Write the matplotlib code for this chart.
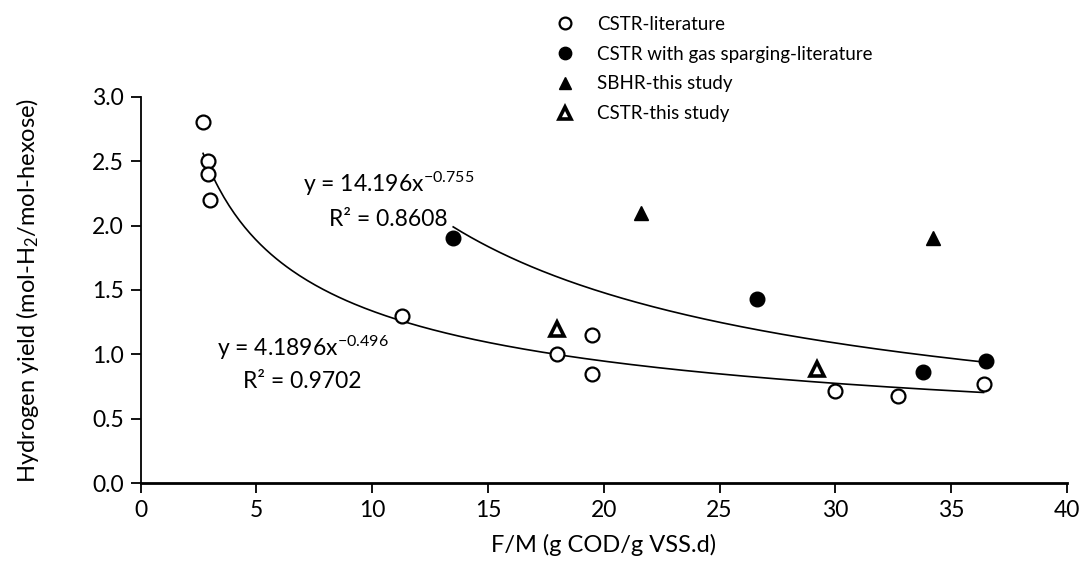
import matplotlib
matplotlib.use("Agg")
import matplotlib.pyplot as plt
import numpy as np

plt.rcParams["font.family"] = ["Lato", "DejaVu Sans"]
plt.rcParams["mathtext.fontset"] = "custom"
plt.rcParams["mathtext.rm"] = "Lato"
plt.rcParams["mathtext.it"] = "Lato:italic"

# data
cstr_lit_x = [2.7, 2.9, 2.9, 3.0, 11.3, 18.0, 19.5, 19.5, 30.0, 32.7, 36.4]
cstr_lit_y = [2.8, 2.5, 2.4, 2.2, 1.3, 1.0, 1.15, 0.85, 0.72, 0.68, 0.77]
sparg_x = [13.5, 26.6, 33.8, 36.5]
sparg_y = [1.9, 1.43, 0.86, 0.95]
sbhr_x = [21.6, 34.2]
sbhr_y = [2.1, 1.9]
cstr_this_x = [18.0, 29.2]
cstr_this_y = [1.2, 0.89]

# power trendlines y = a*x^b
lit_a, lit_b, lit_r2 = 4.1896, -0.496, 0.9702
sparg_a, sparg_b, sparg_r2 = 14.196, -0.755, 0.8608

fig = plt.figure(figsize=(10.82, 5.71), dpi=100)
ax = fig.add_axes([0.1299, 0.1536, 0.8562, 0.6771])

ax.plot(cstr_lit_x, cstr_lit_y, "o", ms=10, mfc="white", mec="black", mew=1.6,
        ls="none", label="CSTR-literature", zorder=3)
ax.plot(sparg_x, sparg_y, "o", ms=10.5, mfc="black", mec="black",
        ls="none", label="CSTR with gas sparging-literature", zorder=3)
ax.plot(sbhr_x, sbhr_y, "^", ms=10, mfc="black", mec="black",
        ls="none", label="SBHR-this study", zorder=3)
ax.plot(cstr_this_x, cstr_this_y, "^", ms=10, mfc="white", mec="black", mew=2.6,
        ls="none", label="CSTR-this study", zorder=3)

xl = np.linspace(min(cstr_lit_x), max(cstr_lit_x), 300)
ax.plot(xl, lit_a * xl ** lit_b, color="black", lw=1.2, zorder=2)
xs = np.linspace(min(sparg_x), max(sparg_x), 300)
ax.plot(xs, sparg_a * xs ** sparg_b, color="black", lw=1.2, zorder=2)

ax.text(10.7, 2.32, "y = %.3fx$^{%.3f}$" % (sparg_a, sparg_b), ha="center", va="center", fontsize=16.5)
ax.text(10.7, 2.045, "R² = %.4f" % sparg_r2, ha="center", va="center", fontsize=16.5)
ax.text(7.0, 1.05, "y = %.4fx$^{%.3f}$" % (lit_a, lit_b), ha="center", va="center", fontsize=16.5)
ax.text(7.0, 0.79, "R² = %.4f" % lit_r2, ha="center", va="center", fontsize=16.5)

ax.set_xlim(0, 40)
ax.set_ylim(0, 3.0)
ax.set_xticks(np.arange(0, 41, 5))
ax.set_yticks(np.arange(0, 3.01, 0.5))
ax.yaxis.set_major_formatter(matplotlib.ticker.FormatStrFormatter("%.1f"))
ax.tick_params(direction="out", length=7, width=1.3, labelsize=16.5, pad=5)
for s in ["top", "right"]:
    ax.spines[s].set_visible(False)
ax.spines["left"].set_linewidth(1.3)
ax.spines["bottom"].set_linewidth(2.0)

ax.set_xlabel("F/M (g COD/g VSS.d)", fontsize=17, labelpad=9)
ax.set_ylabel("Hydrogen yield (mol-H$_2$/mol-hexose)", fontsize=17, labelpad=37)

fig.legend(loc="upper left", bbox_to_anchor=(0.5135, 0.972), frameon=False,
           fontsize=13.5, handletextpad=1.2, labelspacing=0.68, borderpad=0,
           handlelength=1.0, borderaxespad=0, markerscale=0.85)

fig.savefig("out.png", dpi=100)
